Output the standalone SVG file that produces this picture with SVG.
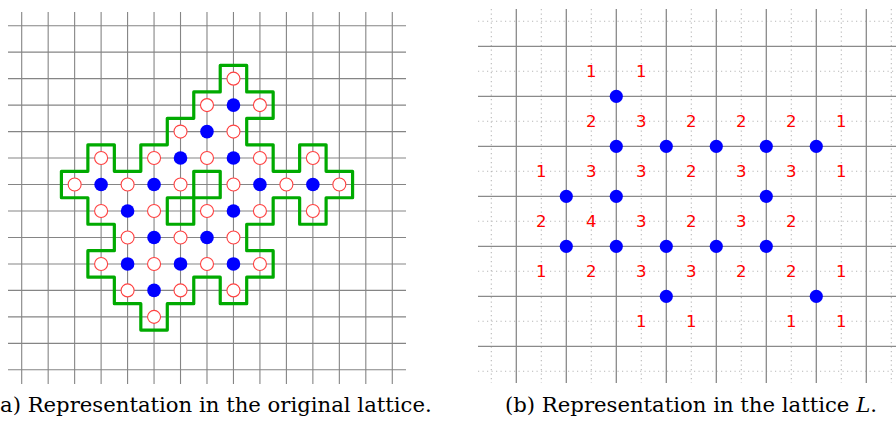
<svg xmlns="http://www.w3.org/2000/svg" width="896" height="426" viewBox="0 0 896 426">
<style>
.grid{stroke:#858585;stroke-width:1.1;fill:none}
.gridb{stroke:#8a8a8a;stroke-width:1.3;fill:none}
.dotted{stroke:#b8b8b8;stroke-width:1.1;stroke-dasharray:1.2 3.3;fill:none}
.bnd{stroke:#00aa00;stroke-width:3.2;fill:none;stroke-linejoin:round}
.r{fill:#fff;stroke:#ff4040;stroke-width:1.1}
.b{fill:#0000ff}
.num{font-family:"DejaVu Sans",sans-serif;font-size:16.5px;fill:#ff0000;text-anchor:middle}
.cap{font-family:"DejaVu Serif",serif;font-size:21.2px;fill:#000}
</style>
<rect width="896" height="426" fill="#fff"/>
<g id="lattice-a">
<path class="grid" d="M8 25.70H406M8 52.17H406M8 78.64H406M8 105.11H406M8 131.58H406M8 158.05H406M8 184.52H406M8 210.99H406M8 237.46H406M8 263.93H406M8 290.40H406M8 316.87H406M8 343.34H406M8 369.81H406
M21.70 12V384M48.17 12V384M74.64 12V384M101.11 12V384M127.58 12V384M154.05 12V384M180.52 12V384M206.99 12V384M233.46 12V384M259.93 12V384M286.40 12V384M312.87 12V384M339.34 12V384M365.81 12V384M392.28 12V384"/>
</g>
<g id="boundary">
<path class="bnd" d="M220.23 65.41H246.70V91.88H273.17V118.35H246.70V144.82H273.17V171.29H299.64V144.82H326.11V171.29H352.58V197.76H326.11V224.23H299.64V197.76H273.17V224.23H246.70V250.70H273.17V277.17H246.70V303.64H220.23V277.17H193.76V303.64H167.29V330.11H140.82V303.64H114.35V277.17H87.88V250.70H114.35V224.23H87.88V197.76H61.41V171.29H87.88V144.82H114.35V171.29H140.82V144.82H167.29V118.35H193.76V91.88H220.23Z"/>
<rect class="bnd" x="193.76" y="171.29" width="26.47" height="26.47"/>
<rect class="bnd" x="167.29" y="197.76" width="26.47" height="26.47"/>
</g>
<g id="cells-a">
<circle class="r" cx="233.46" cy="78.64" r="6.5"/>
<circle class="r" cx="206.99" cy="105.11" r="6.5"/><circle class="b" cx="233.46" cy="105.11" r="6.8"/><circle class="r" cx="259.93" cy="105.11" r="6.5"/>
<circle class="r" cx="180.52" cy="131.58" r="6.5"/><circle class="b" cx="206.99" cy="131.58" r="6.8"/><circle class="r" cx="233.46" cy="131.58" r="6.5"/>
<circle class="r" cx="101.11" cy="158.05" r="6.5"/><circle class="r" cx="154.05" cy="158.05" r="6.5"/><circle class="b" cx="180.52" cy="158.05" r="6.8"/><circle class="r" cx="206.99" cy="158.05" r="6.5"/><circle class="b" cx="233.46" cy="158.05" r="6.8"/><circle class="r" cx="259.93" cy="158.05" r="6.5"/><circle class="r" cx="312.87" cy="158.05" r="6.5"/>
<circle class="r" cx="74.64" cy="184.52" r="6.5"/><circle class="b" cx="101.11" cy="184.52" r="6.8"/><circle class="r" cx="127.58" cy="184.52" r="6.5"/><circle class="b" cx="154.05" cy="184.52" r="6.8"/><circle class="r" cx="180.52" cy="184.52" r="6.5"/><circle class="r" cx="233.46" cy="184.52" r="6.5"/><circle class="b" cx="259.93" cy="184.52" r="6.8"/><circle class="r" cx="286.40" cy="184.52" r="6.5"/><circle class="b" cx="312.87" cy="184.52" r="6.8"/><circle class="r" cx="339.34" cy="184.52" r="6.5"/>
<circle class="r" cx="101.11" cy="210.99" r="6.5"/><circle class="b" cx="127.58" cy="210.99" r="6.8"/><circle class="r" cx="154.05" cy="210.99" r="6.5"/><circle class="r" cx="206.99" cy="210.99" r="6.5"/><circle class="b" cx="233.46" cy="210.99" r="6.8"/><circle class="r" cx="259.93" cy="210.99" r="6.5"/><circle class="r" cx="312.87" cy="210.99" r="6.5"/>
<circle class="r" cx="127.58" cy="237.46" r="6.5"/><circle class="b" cx="154.05" cy="237.46" r="6.8"/><circle class="r" cx="180.52" cy="237.46" r="6.5"/><circle class="b" cx="206.99" cy="237.46" r="6.8"/><circle class="r" cx="233.46" cy="237.46" r="6.5"/>
<circle class="r" cx="101.11" cy="263.93" r="6.5"/><circle class="b" cx="127.58" cy="263.93" r="6.8"/><circle class="r" cx="154.05" cy="263.93" r="6.5"/><circle class="b" cx="180.52" cy="263.93" r="6.8"/><circle class="r" cx="206.99" cy="263.93" r="6.5"/><circle class="b" cx="233.46" cy="263.93" r="6.8"/><circle class="r" cx="259.93" cy="263.93" r="6.5"/>
<circle class="r" cx="127.58" cy="290.40" r="6.5"/><circle class="b" cx="154.05" cy="290.40" r="6.8"/><circle class="r" cx="180.52" cy="290.40" r="6.5"/><circle class="r" cx="233.46" cy="290.40" r="6.5"/>
<circle class="r" cx="154.05" cy="316.87" r="6.5"/>
</g>
<g id="lattice-b">
<path class="dotted" d="M478 21.3H896M478 71.3H896M478 121.3H896M478 171.3H896M478 221.3H896M478 271.3H896M478 321.3H896M478 371.3H896
M491.3 9V383M541.3 9V383M591.3 9V383M641.3 9V383M691.3 9V383M741.3 9V383M791.3 9V383M841.3 9V383M891.3 9V383"/>
<path class="gridb" d="M478 46.3H896M478 96.3H896M478 146.3H896M478 196.3H896M478 246.3H896M478 296.3H896M478 346.3H896
M516.3 9V383M566.3 9V383M616.3 9V383M666.3 9V383M716.3 9V383M766.3 9V383M816.3 9V383M866.3 9V383"/>
</g>
<g id="points-b">
<circle class="b" cx="616.3" cy="96.3" r="6.6"/>
<circle class="b" cx="616.3" cy="146.3" r="6.6"/><circle class="b" cx="666.3" cy="146.3" r="6.6"/><circle class="b" cx="716.3" cy="146.3" r="6.6"/><circle class="b" cx="766.3" cy="146.3" r="6.6"/><circle class="b" cx="816.3" cy="146.3" r="6.6"/>
<circle class="b" cx="566.3" cy="196.3" r="6.6"/><circle class="b" cx="616.3" cy="196.3" r="6.6"/><circle class="b" cx="766.3" cy="196.3" r="6.6"/>
<circle class="b" cx="566.3" cy="246.3" r="6.6"/><circle class="b" cx="616.3" cy="246.3" r="6.6"/><circle class="b" cx="666.3" cy="246.3" r="6.6"/><circle class="b" cx="716.3" cy="246.3" r="6.6"/><circle class="b" cx="766.3" cy="246.3" r="6.6"/>
<circle class="b" cx="666.3" cy="296.3" r="6.6"/><circle class="b" cx="816.3" cy="296.3" r="6.6"/>
</g>
<g id="labels-b">
<text class="num" x="591.3" y="77.4">1</text><text class="num" x="641.3" y="77.4">1</text>
<text class="num" x="591.3" y="127.4">2</text><text class="num" x="641.3" y="127.4">3</text><text class="num" x="691.3" y="127.4">2</text><text class="num" x="741.3" y="127.4">2</text><text class="num" x="791.3" y="127.4">2</text><text class="num" x="841.3" y="127.4">1</text>
<text class="num" x="541.3" y="177.4">1</text><text class="num" x="591.3" y="177.4">3</text><text class="num" x="641.3" y="177.4">3</text><text class="num" x="691.3" y="177.4">2</text><text class="num" x="741.3" y="177.4">3</text><text class="num" x="791.3" y="177.4">3</text><text class="num" x="841.3" y="177.4">1</text>
<text class="num" x="541.3" y="227.4">2</text><text class="num" x="591.3" y="227.4">4</text><text class="num" x="641.3" y="227.4">3</text><text class="num" x="691.3" y="227.4">2</text><text class="num" x="741.3" y="227.4">3</text><text class="num" x="791.3" y="227.4">2</text>
<text class="num" x="541.3" y="277.4">1</text><text class="num" x="591.3" y="277.4">2</text><text class="num" x="641.3" y="277.4">3</text><text class="num" x="691.3" y="277.4">3</text><text class="num" x="741.3" y="277.4">2</text><text class="num" x="791.3" y="277.4">2</text><text class="num" x="841.3" y="277.4">1</text>
<text class="num" x="641.3" y="327.4">1</text><text class="num" x="691.3" y="327.4">1</text><text class="num" x="791.3" y="327.4">1</text><text class="num" x="841.3" y="327.4">1</text>
</g>
<g id="captions">
<text class="cap" x="0" y="411.7">a) Representation in the original lattice.</text>
<text class="cap" x="505" y="411.7">(b) Representation in the lattice <tspan font-style="italic">L</tspan>.</text>
</g>
</svg>
